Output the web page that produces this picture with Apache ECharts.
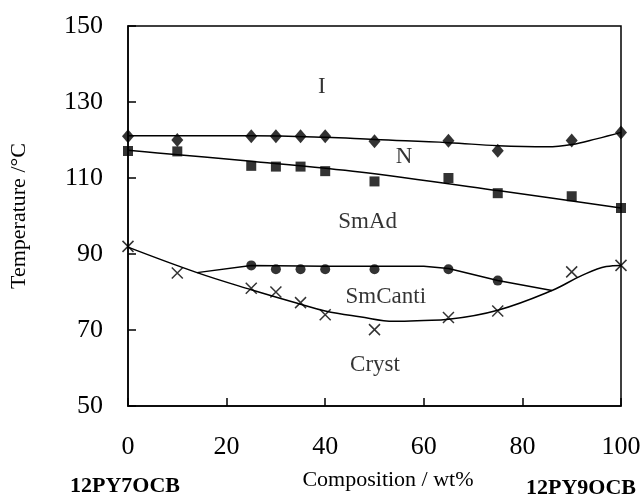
<!DOCTYPE html>
<html>
<head>
<meta charset="utf-8">
<script src="https://cdn.jsdelivr.net/npm/echarts@6/dist/echarts.min.js"></script>
<style>html,body{margin:0;padding:0;background:#fff;}#c{width:644px;height:500px;}</style>
</head>
<body>
<div id="c"></div>
<script>
// Measured points
const compX = [0, 10, 25, 30, 35, 40, 50, 65, 75, 90, 100];
const isoT = [121, 120, 121, 121, 121, 121, 119.7, 119.8, 117.2, 119.9, 122];
const smAdT = [117.1, 117, 113.2, 113, 113, 111.8, 109.1, 110, 106, 105.2, 102.1];
const smCX = [25, 30, 35, 40, 50, 65, 75];
const smCT = [87, 86, 86, 86, 86, 86, 83];
const crystT = [92, 85, 81, 80, 77.2, 74, 70.1, 73.3, 75, 85.3, 87];

// Phase boundary curves
const curveIX = [0, 25, 40, 50, 65, 75, 85, 90, 95, 100];
const curveIY = [121.1, 121.1, 120.7, 120.1, 119.3, 118.5, 118.2, 118.8, 120.3, 122];
const curveNX = [0, 6, 25, 47, 75, 100];
const curveNY = [117.3, 116.6, 114.4, 111.6, 106.7, 102.1];
const curveCX = [14, 25, 40, 60, 65, 75, 86];
const curveCY = [85.1, 87, 86.8, 86.8, 86.2, 83, 80.4];
const curveKX = [0, 14, 25, 35, 40, 47, 54, 60, 65, 75, 86, 92, 97, 100];
const curveKY = [91.8, 85.1, 80.6, 76.8, 75, 73.5, 72.3, 72.5, 72.8, 75.2, 80.4, 84.3, 86.7, 87];

const phaseNames = ['I', 'N', 'SmAd', 'SmCanti', 'Cryst'];
const phaseX = [39.3, 56, 48.6, 52.3, 50.1];
const phaseY = [134, 115.5, 98.4, 78.7, 60.7];

const xTicks = [0, 20, 40, 60, 80, 100];
const yTicks = [50, 70, 90, 110, 130, 150];

const zip = (a, b) => a.map((v, i) => [v, b[i]]);
const serif = '"Liberation Serif", "Times New Roman", serif';

const chart = echarts.init(document.getElementById('c'));
const lineStyle = { color: '#000', width: 1.5 };
const curve = (xs, ys, smooth) => ({
  type: 'line', data: zip(xs, ys), smooth: smooth, showSymbol: false,
  lineStyle: lineStyle, z: 2, silent: true
});
chart.setOption({
  animation: false,
  grid: { left: 126, right: 23, top: 26, bottom: 94, show: true, borderColor: '#000', borderWidth: 1.5 },
  xAxis: {
    type: 'value', min: xTicks[0], max: xTicks[xTicks.length - 1], interval: 20,
    axisLine: { lineStyle: { color: '#000', width: 1.5 } },
    axisTick: { inside: true, length: 8, lineStyle: { color: '#000', width: 1.5 } },
    axisLabel: { color: '#000', fontFamily: serif, fontSize: 26, margin: 28 },
    splitLine: { show: false }
  },
  yAxis: {
    type: 'value', min: yTicks[0], max: yTicks[yTicks.length - 1], interval: 20,
    name: 'Temperature /°C', nameLocation: 'middle', nameGap: 98, nameRotate: 90,
    nameTextStyle: { color: '#000', fontFamily: serif, fontSize: 22 },
    axisLine: { lineStyle: { color: '#000', width: 1.5 } },
    axisTick: { inside: true, length: 8, lineStyle: { color: '#000', width: 1.5 } },
    axisLabel: { color: '#000', fontFamily: serif, fontSize: 26, margin: 25 },
    splitLine: { show: false }
  },
  graphic: [
    { type: 'text', x: 388, y: 480, style: { text: 'Composition / wt%', fill: '#000', font: '22px ' + serif, textAlign: 'center', textVerticalAlign: 'middle' } },
    { type: 'text', x: 125, y: 486, style: { text: '12PY7OCB', fill: '#000', font: 'bold 22px ' + serif, textAlign: 'center', textVerticalAlign: 'middle' } },
    { type: 'text', x: 581, y: 488, style: { text: '12PY9OCB', fill: '#000', font: 'bold 22px ' + serif, textAlign: 'center', textVerticalAlign: 'middle' } }
  ],
  series: [
    curve(curveIX, curveIY, 0.4),
    curve(curveNX, curveNY, 0.3),
    curve(curveCX, curveCY, false),
    curve(curveKX, curveKY, 0.4),
    { type: 'scatter', data: zip(compX, isoT), symbol: 'diamond', symbolSize: [12, 14], itemStyle: { color: '#000' }, z: 3 },
    { type: 'scatter', data: zip(compX, smAdT), symbol: 'rect', symbolSize: 10, itemStyle: { color: '#000' }, z: 3 },
    { type: 'scatter', data: zip(smCX, smCT), symbol: 'circle', symbolSize: 10, itemStyle: { color: '#000' }, z: 3 },
    { type: 'scatter', data: zip(compX, crystT), symbol: 'path://M0,0L10,10M10,0L0,10', symbolSize: 11,
      itemStyle: { color: 'none', borderColor: '#000', borderWidth: 1.5 }, z: 3 },
    { type: 'scatter', symbolSize: 0, silent: true,
      data: phaseNames.map((n, i) => ({ name: n, value: [phaseX[i], phaseY[i]] })),
      label: { show: true, position: 'inside', formatter: p => p.name, color: '#000', fontFamily: serif, fontSize: 23 } }
  ]
});
</script>
</body>
</html>
